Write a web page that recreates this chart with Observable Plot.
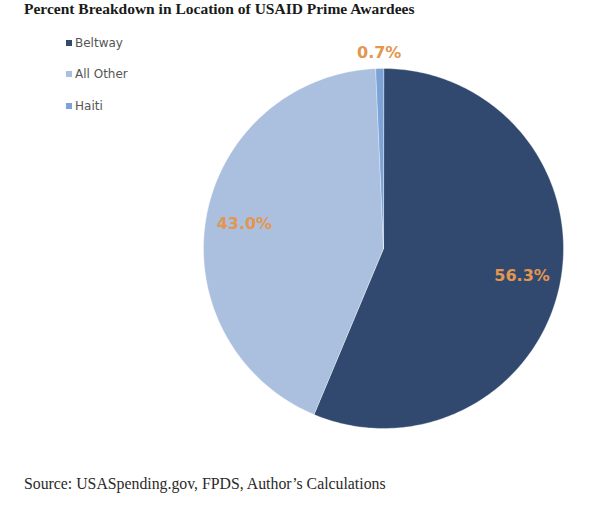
<!DOCTYPE html>
<html>
<head>
<meta charset="utf-8">
<script src="https://cdn.jsdelivr.net/npm/d3@7"></script>
<script src="https://cdn.jsdelivr.net/npm/@observablehq/plot@0.6"></script>
<style>
  html, body { margin: 0; padding: 0; background: #fff; }
  #wrap { position: relative; width: 600px; height: 506px; overflow: hidden; }
  #title { position: absolute; left: 24px; top: 0; font-family: "Liberation Serif", serif; font-weight: bold; font-size: 15.5px; line-height: 18px; color: #1a1a1a; white-space: nowrap; }
  #chart { position: absolute; left: 0; top: 22px; }
  #legend { position: absolute; left: 66px; top: 0; font-family: "DejaVu Sans", sans-serif; font-size: 12px; color: #555; }
  .item { position: absolute; left: 0; white-space: nowrap; line-height: 14px; }
  .sw { display: inline-block; width: 6px; height: 6px; margin-right: 3px; vertical-align: 1px; }
  #source { position: absolute; left: 24px; top: 475px; font-family: "Liberation Serif", serif; font-size: 15.8px; line-height: 18px; color: #2a2a2a; white-space: nowrap; }
</style>
</head>
<body>
<div id="wrap">
  <div id="title"></div>
  <div id="chart"></div>
  <div id="legend"></div>
  <div id="source"></div>
</div>
<script>
const titleText = "Percent Breakdown in Location of USAID Prime Awardees";
const sourceText = "Source: USASpending.gov, FPDS, Author\u2019s Calculations";
const categories = ["Beltway", "All Other", "Haiti"];
const shares = [56.3, 43.0, 0.7];
const colors = ["#31496f", "#abc0df", "#7ba3d7"];
const labelColor = "#e3964f";

document.getElementById("title").textContent = titleText;
document.getElementById("source").textContent = sourceText;

// legend
const legend = document.getElementById("legend");
const legendTops = [36, 67, 99];
categories.forEach((c, i) => {
  const d = document.createElement("div");
  d.className = "item";
  d.style.top = legendTops[i] + "px";
  const s = document.createElement("span");
  s.className = "sw";
  s.style.background = colors[i];
  d.appendChild(s);
  d.appendChild(document.createTextNode(c));
  legend.appendChild(d);
});

const data = categories.map((name, i) => ({name, value: shares[i]}));
const arcs = d3.pie().sort(null).value(d => d.value)(data);

// polygon points per slice (angles clockwise from 12 o'clock)
const pts = [];
arcs.forEach(a => {
  const name = a.data.name;
  pts.push({name, x: 0, y: 0});
  const n = Math.max(2, Math.ceil((a.endAngle - a.startAngle) / (Math.PI / 180)));
  for (let k = 0; k <= n; k++) {
    const t = a.startAngle + (a.endAngle - a.startAngle) * k / n;
    pts.push({name, x: Math.sin(t), y: Math.cos(t)});
  }
});

const labels = arcs.map(a => {
  const m = (a.startAngle + a.endAngle) / 2;
  const r = a.data.value < 2 ? 1.085 : 0.785;
  return {text: a.data.value.toFixed(1) + "%", x: r * Math.sin(m), y: r * Math.cos(m)};
});

const cx = 383, cy = 226, R = 180;
const plot = Plot.plot({
  width: 600,
  height: 438,
  margin: 0,
  x: {domain: [-1, 1], range: [cx - R, cx + R], axis: null},
  y: {domain: [-1, 1], range: [cy + R, cy - R], axis: null},
  color: {domain: categories, range: colors},
  style: {background: "transparent", overflow: "visible"},
  marks: [
    Plot.line(pts, {x: "x", y: "y", z: "name", fill: "name", stroke: "#ffffff", strokeWidth: 0.6, strokeOpacity: 0.6, curve: "linear-closed"}),
    Plot.text(labels, {x: "x", y: "y", text: "text", fill: labelColor, fontSize: 16, fontWeight: "bold", fontFamily: "DejaVu Sans, sans-serif"})
  ]
});
document.getElementById("chart").appendChild(plot);
</script>
</body>
</html>
